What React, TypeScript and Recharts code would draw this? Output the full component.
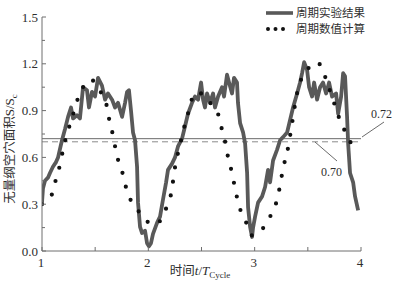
import React from 'react';
import { ComposedChart, Line, XAxis, YAxis, ReferenceLine } from 'recharts';

// Experimental (periodic experiment result) – t in cycles, v = S/Sc
const expT = [
  1.0, 1.009, 1.028, 1.056, 1.075, 1.103, 1.132, 1.151, 1.188, 1.216, 1.245, 1.273, 1.292, 1.329, 1.357,
  1.386, 1.423, 1.442, 1.47, 1.499, 1.527, 1.564, 1.593, 1.621, 1.659, 1.687, 1.715, 1.753, 1.781, 1.8,
  1.818, 1.837, 1.856, 1.875, 1.894, 1.903, 1.922, 1.941, 1.969, 1.988, 2.006, 2.025, 2.044, 2.082, 2.11,
  2.138, 2.167, 2.185, 2.223, 2.251, 2.279, 2.317, 2.345, 2.373, 2.411, 2.439, 2.468, 2.496, 2.515, 2.533,
  2.552, 2.58, 2.609, 2.627, 2.656, 2.693, 2.712, 2.74, 2.759, 2.787, 2.806, 2.834, 2.843, 2.863, 2.891,
  2.91, 2.929, 2.938, 2.957, 2.975, 2.985, 3.004, 3.032, 3.07, 3.098, 3.126, 3.145, 3.173, 3.211, 3.239,
  3.267, 3.305, 3.333, 3.361, 3.399, 3.427, 3.446, 3.465, 3.493, 3.512, 3.54, 3.559, 3.587, 3.615, 3.643,
  3.672, 3.7, 3.728, 3.766, 3.785, 3.813, 3.832, 3.85, 3.869, 3.879, 3.897, 3.926, 3.944, 3.973,
];
const expV = [
  0.31, 0.4, 0.45, 0.47, 0.5, 0.54, 0.57, 0.6, 0.71, 0.78, 0.86, 0.92, 0.85, 0.87, 0.85,
  1.05, 1.03, 0.92, 1.02, 0.99, 1.11, 1.06, 0.97, 1.01, 0.97, 0.92, 0.95, 0.86, 0.95, 1.02,
  1.03, 0.9, 0.76, 0.71, 0.54, 0.31, 0.155, 0.115, 0.13, 0.05, 0.03, 0.05, 0.11, 0.18, 0.22,
  0.33, 0.44, 0.52, 0.56, 0.6, 0.67, 0.72, 0.8, 0.88, 0.95, 0.99, 0.97, 1.08, 0.97, 0.92,
  1.01, 0.95, 1.01, 0.92, 0.99, 1.05, 0.99, 1.13, 1.08, 1.01, 1.11, 1.08, 0.95, 0.82, 0.76,
  0.69, 0.5, 0.28, 0.155, 0.09, 0.15, 0.22, 0.31, 0.35, 0.41, 0.52, 0.44, 0.58, 0.65, 0.71,
  0.73, 0.76, 0.84, 0.92, 1.01, 1.08, 1.14, 1.21, 1.16, 1.05, 0.99, 1.08, 0.97, 1.05, 1.08,
  1.01, 1.08, 0.99, 1.01, 0.88, 0.99, 1.14, 1.12, 0.86, 0.69, 0.5, 0.44, 0.35, 0.26,
];

// Numerical (periodic numerical calculation)
const numT = [
  1.0, 1.056, 1.103, 1.141, 1.169, 1.198, 1.235, 1.282, 1.329, 1.395, 1.461, 1.527, 1.602, 1.63, 1.668,
  1.696, 1.734, 1.762, 1.8, 1.875, 1.988, 2.054, 2.119, 2.176, 2.223, 2.242, 2.27, 2.308, 2.336, 2.373,
  2.42, 2.477, 2.533, 2.599, 2.646, 2.684, 2.722, 2.75, 2.787, 2.816, 2.853, 2.91, 2.975, 3.041, 3.145,
  3.211, 3.239, 3.267, 3.305, 3.343, 3.38, 3.408, 3.474, 3.531, 3.587, 3.634, 3.681, 3.737, 3.785, 3.841,
  3.879, 3.926, 3.954,
];
const numV = [
  0.3, 0.33, 0.38, 0.49, 0.55, 0.65, 0.75, 0.85, 0.96, 1.06, 1.1, 1.04, 0.95, 0.85, 0.74,
  0.64, 0.54, 0.49, 0.38, 0.29, 0.19, 0.17, 0.2, 0.29, 0.4, 0.5, 0.6, 0.71, 0.79, 0.88,
  0.99, 1.02, 0.97, 0.94, 0.9, 0.8, 0.7, 0.6, 0.5, 0.4, 0.29, 0.2, 0.1, 0.12, 0.22,
  0.33, 0.42, 0.53, 0.63, 0.78, 0.94, 1.04, 1.14, 1.19, 1.21, 1.17, 1.08, 0.97, 0.87, 0.78,
  0.72, 0.67, 0.62,
];

const xTicks = [1, 1.5, 2, 2.5, 3, 3.5, 4];
const yTicks = [0, 0.15, 0.3, 0.45, 0.6, 0.75, 0.9, 1.05, 1.2, 1.35, 1.5];
const yMajor = [0, 0.3, 0.6, 0.9, 1.2, 1.5];
const refSolid = 0.72;
const refDashed = 0.7;
const legendNames = ['周期实验结果', '周期数值计算'];

const expData = expT.map((t, i) => ({ t, v: expV[i] }));
const numData = numT.map((t, i) => ({ t, v: numV[i] }));

const W = 394;
const H = 287;
const PLOT_LEFT = 42;
const PLOT_BOTTOM = 251;
const AXIS = '#6e6e6e';
const TXT = '#2e2e2e';
const SERIF = '"Liberation Serif", "Times New Roman", serif';
const CJK = '"Noto Sans CJK SC", sans-serif';

const XTick = (props: any) => {
  const { x, payload } = props;
  const major = Number.isInteger(payload.value);
  return (
    <g>
      <line x1={x} x2={x} y1={PLOT_BOTTOM} y2={PLOT_BOTTOM - 4} stroke={AXIS} strokeWidth={1} />
      {major && (
        <text x={x - 1} y={PLOT_BOTTOM + 16} textAnchor="middle" fontFamily={SERIF} fontSize={13} fill={TXT}>
          {payload.value}
        </text>
      )}
    </g>
  );
};

const YTick = (props: any) => {
  const { y, payload } = props;
  const major = yMajor.some((m) => Math.abs(m - payload.value) < 1e-6);
  return (
    <g>
      <line x1={PLOT_LEFT} x2={PLOT_LEFT + (major ? 4 : 3)} y1={y} y2={y} stroke={AXIS} strokeWidth={1} />
      {major && (
        <text x={PLOT_LEFT - 4} y={y} dy="0.35em" textAnchor="end" fontFamily={SERIF} fontSize={13} fill={TXT}>
          {payload.value.toFixed(1)}
        </text>
      )}
    </g>
  );
};

export default function App() {
  return (
    <div style={{ position: 'absolute', left: 0, top: 0, width: W, height: H, background: '#fff' }}>
      <ComposedChart width={W} height={H} margin={{ top: 17, right: 33, bottom: 0, left: 0 }}>
        <XAxis
          type="number"
          dataKey="t"
          domain={[1, 4]}
          ticks={xTicks}
          height={36}
          tick={<XTick />}
          tickLine={false}
          axisLine={{ stroke: AXIS, strokeWidth: 1 }}
          allowDataOverflow
          interval={0}
        />
        <YAxis
          type="number"
          domain={[0, 1.5]}
          ticks={yTicks}
          width={42}
          tick={<YTick />}
          tickLine={false}
          axisLine={{ stroke: AXIS, strokeWidth: 1 }}
          interval={0}
        />
        <ReferenceLine y={refSolid} stroke="#6a6a6a" strokeWidth={1} />
        <ReferenceLine y={refDashed} stroke="#8a8a8a" strokeWidth={1} strokeDasharray="6 4" />
        <Line
          data={expData}
          dataKey="v"
          type="linear"
          stroke="#595959"
          strokeWidth={3.8}
          strokeLinejoin="round"
          dot={false}
          isAnimationActive={false}
        />
        <Line
          data={numData}
          dataKey="v"
          type="monotone"
          stroke="#111"
          strokeWidth={4.2}
          strokeDasharray="0 14"
          strokeLinecap="round"
          dot={false}
          isAnimationActive={false}
        />
      </ComposedChart>
      <svg width={W} height={H} style={{ position: 'absolute', left: 0, top: 0, pointerEvents: 'none' }}>
        {/* legend */}
        <line x1={266} x2={293} y1={13} y2={13} stroke="#595959" strokeWidth={3.6} />
        <text x={296} y={13} dy="0.36em" fontFamily={CJK} fontSize={11.5} fill={TXT}>{legendNames[0]}</text>
        <line x1={268} x2={284} y1={29} y2={29} stroke="#111" strokeWidth={4} strokeDasharray="0 7.5" strokeLinecap="round" />
        <text x={296} y={29} dy="0.36em" fontFamily={CJK} fontSize={11.5} fill={TXT}>{legendNames[1]}</text>
        {/* annotations */}
        <line x1={362} y1={137} x2={384} y2={122} stroke="#444" strokeWidth={0.8} />
        <text x={371} y={118} fontFamily={SERIF} fontSize={12} fill={TXT}>{refSolid.toFixed(2)}</text>
        <line x1={315} y1={142} x2={337} y2={161} stroke="#444" strokeWidth={0.8} />
        <text x={321} y={176} fontFamily={SERIF} fontSize={12} fill={TXT}>{refDashed.toFixed(2)}</text>
        {/* axis titles */}
        <text x={200} y={275} textAnchor="middle" fontSize={12.5} fill={TXT}>
          <tspan fontFamily={CJK}>时间</tspan>
          <tspan fontFamily={SERIF} fontStyle="italic" fontSize={13}>t</tspan>
          <tspan fontFamily={SERIF} fontSize={13}>/</tspan>
          <tspan fontFamily={SERIF} fontStyle="italic" fontSize={13}>T</tspan>
          <tspan fontFamily={SERIF} fontSize={9} dy={3}>Cycle</tspan>
        </text>
        <text x={0} y={0} transform="translate(14,149) rotate(-90)" textAnchor="middle" fontSize={12.5} fill={TXT}>
          <tspan fontFamily={CJK}>无量纲空穴面积</tspan>
          <tspan fontFamily={SERIF} fontSize={13}>S/S</tspan>
          <tspan fontFamily={SERIF} fontSize={9} dy={3}>c</tspan>
        </text>
      </svg>
    </div>
  );
}
